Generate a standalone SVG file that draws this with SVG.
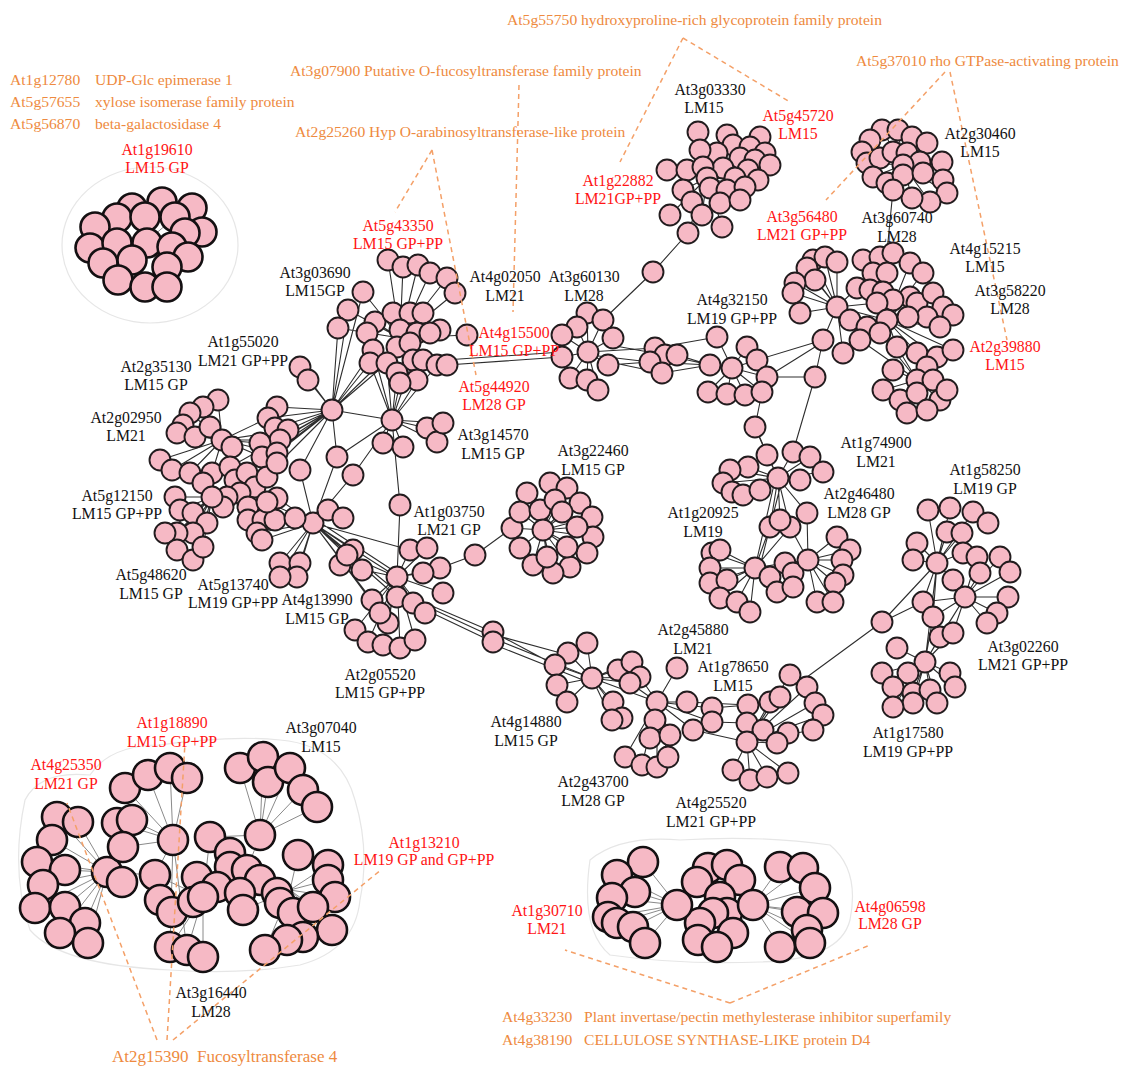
<svg xmlns="http://www.w3.org/2000/svg" width="1121" height="1067" viewBox="0 0 1121 1067">
<style>
.n circle{fill:#F6B9C5;stroke:#221C1E;stroke-width:1.9}
.m circle{fill:#F6B9C5;stroke:#141012;stroke-width:2.6}
.e{stroke:#2e2e2e;stroke-width:1.1;fill:none}
.eg{stroke:#8a8a8a;stroke-width:1;fill:none}
.hull{stroke:#e6e6e6;stroke-width:1.2;fill:none}
.d{stroke:#F4A068;stroke-width:1.5;stroke-dasharray:5 4;fill:none}
text{font-family:"Liberation Serif","Times New Roman",serif;font-size:15.8px}
.t{text-anchor:middle;fill:#111}
.r{text-anchor:middle;fill:#FF1414}
.o{fill:#EE8A40;font-size:15.6px}
.o2{fill:#EE8A40;font-size:17px}
</style>
<rect width="1121" height="1067" fill="#fff"/>

<g id="hulls">
<ellipse class="hull" cx="150" cy="245" rx="88" ry="78"/>
<path class="hull" d="M25 800 Q40 770 90 775 Q110 745 160 745 Q230 735 280 740 Q340 745 355 800 Q370 850 360 900 Q355 950 300 965 Q240 975 170 970 Q60 965 30 930 Q10 870 25 800Z"/>
<path class="hull" d="M590 860 Q620 835 680 840 Q760 835 830 845 Q860 870 850 920 Q840 960 760 962 Q680 965 610 955 Q580 930 590 860Z"/>
</g>

<g id="connectors">
<g id="e-isolated">
<path class="eg" d="M145 243L175 217M147 243L172 247M145 243L132 260M147 243L117 243M175 217L172 247M145 217L147 243M167 267L147 243"/>
<path class="eg" d="M107 872L57 817M107 872L78 822M107 872L52 840M107 872L37 862M107 872L65 870M107 872L43 885M107 872L35 908M107 872L65 907M107 872L85 923M107 872L60 933M107 872L88 943M107 872L122 882M107 872L155 875M173 840L125 788M173 840L148 775M173 840L170 768M173 840L187 778M173 840L117 823M173 840L132 820M173 840L123 847M173 840L155 875M173 840L170 947M173 840L187 950M260 835L240 768M260 835L263 757M260 835L268 782M260 835L290 768M260 835L303 790M260 835L317 807M260 835L247 870M260 835L210 837M290 890L298 855M290 890L328 865M290 890L328 880M290 890L335 897M290 890L313 907M290 890L332 930M290 890L303 937M290 890L287 940M290 890L265 950M290 890L277 893M290 890L260 880M290 890L243 910M203 897L170 947M203 897L187 950M203 897L203 957M203 897L155 875M203 897L230 853M203 897L210 837M193 902L172 912M217 887L247 870"/>
<path class="eg" d="M677 905L643 862M677 905L617 875M677 905L635 892M677 905L612 898M677 905L608 917M677 905L617 923M677 905L633 927M677 905L645 943M677 905L700 923M677 905L697 882M753 905L780 867M753 905L803 868M753 905L815 888M753 905L797 912M753 905L807 930M753 905L823 913M753 905L780 947M753 905L810 943M753 905L733 933M753 905L740 880"/>
</g>
<g id="e-main">
<path class="e" d="M400 338L388 260M400 338L403 267M400 338L418 265M400 338L430 273M400 338L447 278M400 338L455 293M400 338L363 292M400 338L348 310M400 338L338 328M400 338L467 335M400 338L440 330M400 338L375 322M400 338L393 313M400 338L410 313M400 338L423 313M392 420L373 350M392 420L370 363M392 420L387 363M392 420L397 373M392 420L413 360M392 420L400 383M392 420L417 380M392 420L437 365M392 420L383 443M392 420L403 447M392 420L427 428M392 420L437 442M392 420L443 423M392 420L400 505M392 420L353 475M392 420L337 457M392 420L332 410M332 410L373 350M332 410L370 363M332 410L387 363M332 410L397 347M332 410L363 292M332 410L348 310M332 410L338 328M447 365L562 357M445 360L562 352"/>
<path class="e" d="M332 410L300 367M332 410L308 380M332 410L277 407M332 410L268 418M332 410L275 428M332 410L288 430M332 410L280 440M332 410L262 457M332 410L277 453M332 410L300 470M332 410L337 457M332 410L230 467M332 410L247 473M332 410L255 487M222 440L218 400M222 440L203 407M222 440L190 413M222 440L183 425M222 440L177 433M222 440L160 460M222 440L172 470M222 440L190 473M222 440L212 473M222 440L260 443M222 440L262 457M222 440L268 418M222 440L277 453M222 440L280 440M222 440L288 430M212 497L175 497M212 497L180 510M212 497L193 513M212 497L207 523M212 497L193 533M212 497L177 533M212 497L165 533M212 497L177 550M212 497L193 560M212 497L203 547M212 497L240 493M212 497L248 507M212 497L255 487M212 497L267 477M212 497L277 463M212 497L262 457M212 497L277 498M313 523L248 520M313 523L263 520M313 523L275 520M313 523L257 533M313 523L262 540M313 523L280 563M313 523L300 563M313 523L297 577M313 523L280 577M313 523L300 470M313 523L353 475M313 523L277 498M313 523L267 502M313 523L337 457M313 523L397 577M313 523L410 550M313 523L397 597M313 523L380 613M313 523L372 600M313 523L362 570M313 523L353 550M313 523L388 623M316 520L400 575M318 527L395 590"/>
<path class="e" d="M397 577L410 550M397 577L427 548M397 577L440 568M397 577L423 573M397 577L443 593M397 577L397 597M397 577L413 603M397 577L425 613M397 577L372 600M397 577L388 623M397 577L400 648M397 577L383 645M397 577L368 642M397 577L355 630M397 577L415 640M397 577L400 505M397 577L340 565M397 577L347 555M440 568L475 555L512 528M425 603L493 632M428 607L493 637M430 612L493 642M493 632L555 665M495 635L568 655M497 640L592 678M495 645L588 682"/>
<path class="e" d="M543 530L527 493M543 530L550 483M543 530L567 488M543 530L580 503M543 530L592 517M543 530L593 537M543 530L587 553M543 530L570 567M543 530L553 573M543 530L533 565M543 530L520 548M543 530L512 528M543 530L520 512M543 530L562 512M543 530L577 527M543 530L567 547M543 530L547 557M543 530L540 510M543 530L555 500"/>
<path class="e" d="M588 352L587 313M588 352L603 320M588 352L613 338M588 352L577 327M588 352L562 335M588 352L562 357M588 352L608 365M588 352L570 378M588 352L587 380M588 352L598 390M603 320L653 272L688 233M588 352L655 348M590 355L650 362M600 360L662 373M610 345L665 355M608 365L650 362M655 348L710 365M665 355L710 365M662 373L710 365M677 355L710 365M650 362L710 365M655 348L717 337"/>
<path class="e" d="M732 368L710 365M732 368L717 337M732 368L747 347M732 368L757 360M732 368L767 377M732 368L708 392M732 368L727 394M732 368L745 395M732 368L762 392M757 360L823 340M767 377L823 342M767 377L815 377M815 377L823 340M815 377L793 452M762 392L755 427L767 455"/>
<path class="e" d="M837 307L813 260M837 307L825 257M837 307L837 262M837 307L807 268M837 307L815 280M837 307L795 283M837 307L793 293M837 307L800 313M837 307L857 288M837 307L850 320M837 307L877 303M837 307L823 340M837 307L843 353M837 307L867 327M887 320L863 260M887 320L880 257M887 320L893 253M887 320L910 263M887 320L923 273M887 320L873 273M887 320L887 273M887 320L857 288M887 320L870 290M887 320L883 292M887 320L910 297M887 320L917 303M887 320L933 293M887 320L943 307M887 320L953 315M887 320L927 317M887 320L940 327M887 320L877 303M887 320L850 320M887 320L860 340M887 320L897 347M887 320L917 353M887 320L937 357M887 320L953 350M887 320L837 307M917 380L927 367M917 380L933 380M917 380L893 370M917 380L883 390M917 380L900 400M917 380L917 393M917 380L940 400M917 380L947 390M917 380L907 413M917 380L927 410M917 380L897 347M917 380L937 357M917 380L953 350M917 380L880 333M917 380L860 340M893 190L887 252"/>
<path class="e" d="M903 165L882 130M903 165L898 130M903 165L912 137M903 165L927 143M903 165L870 140M903 165L862 152M903 165L867 163M903 165L880 158M903 165L920 162M903 165L942 162M903 165L873 177M903 165L887 183M903 165L923 173M903 165L943 180M903 165L947 193M903 165L930 202M903 165L912 198M903 165L893 190"/>
<path class="e" d="M707 178L667 170M707 178L687 170M707 178L703 167M707 178L683 190M707 178L670 215M707 178L688 233M707 178L702 215M707 178L722 227M707 178L720 203M707 178L740 200M707 178L727 190M707 178L717 153M707 178L723 168M707 178L740 158M707 178L748 170M707 178L758 180M707 178L733 145M707 178L750 147M707 178L765 153M707 178L745 187M698 132L717 153"/>
<path class="e" d="M778 478L755 427M778 478L767 455M778 478L793 452M778 478L810 457M778 478L823 472M778 478L748 467M778 478L730 470M778 478L723 483M778 478L732 492M778 478L743 495M778 478L760 490M778 478L800 480M778 478L807 513M778 478L770 527M778 478L780 520M778 478L790 527M775 480L755 568M782 480L760 566M807 513L808 560M755 568L712 553M755 568L720 550M755 568L710 568M755 568L710 583M755 568L727 580M755 568L720 598M755 568L737 602M755 568L750 612M755 568L770 577M755 568L770 527M755 568L790 527M755 568L785 563M808 560L837 537M808 560L850 550M808 560L842 560M808 560L843 575M808 560L835 583M808 560L817 602M808 560L833 602M808 560L777 592M808 560L793 587M808 560L793 573M808 560L785 563M808 560L790 527"/>
<path class="e" d="M937 563L928 510M937 563L950 508M937 563L973 512M937 563L947 532M937 563L962 533M937 563L917 543M937 563L913 560M937 563L963 553M937 563L953 580M937 563L923 602M937 563L933 617M965 597L977 557M965 597L1000 557M965 597L1010 572M965 597L980 573M965 597L1008 597M965 597L997 613M965 597L987 623M965 597L953 633M965 597L940 637M965 597L953 580M965 597L923 602M965 597L925 662M965 597L933 617M925 662L897 648M925 662L882 673M925 662L893 687M925 662L908 673M925 662L913 693M925 662L930 690M925 662L950 673M925 662L955 687M925 662L937 703M925 662L913 703M925 662L893 707M925 662L940 637M925 662L953 633M925 662L937 563M925 662L933 617M882 622L923 602M882 622L937 563M882 622L807 677"/>
<path class="e" d="M592 678L587 643M592 678L568 653M592 678L555 665M592 678L557 685M592 678L567 702M592 678L618 670M592 678L632 662M592 678L640 677M592 678L630 683M592 678L613 702M592 678L622 718M592 678L612 720M592 678L657 702M587 643L568 653M657 702L677 668M657 702L687 702M657 702L712 708M657 702L712 722M657 702L693 730M657 702L655 720M657 702L650 738M657 702L670 735M657 702L625 757M657 702L642 765M657 702L657 767M657 702L668 757M657 702L640 677M657 702L630 683M687 702L748 705M712 708L748 705M712 722L747 723M693 730L747 742M747 742L748 705M747 742L770 702M747 742L747 723M747 742L763 730M747 742L777 743M747 742L733 770M747 742L750 780M747 742L767 777M747 742L780 697M747 742L790 675M747 742L807 687M747 742L815 703M747 742L823 715M747 742L813 730M747 742L788 733M747 742L788 773"/>
</g>
</g>

<g id="n-At1g19610" class="m">
<circle cx="132" cy="208" r="14.5"/><circle cx="162" cy="202" r="14.5"/><circle cx="192" cy="208" r="14.5"/><circle cx="117" cy="218" r="14.5"/><circle cx="95" cy="227" r="14.5"/><circle cx="145" cy="217" r="14.5"/><circle cx="175" cy="217" r="14.5"/><circle cx="202" cy="232" r="14.5"/><circle cx="185" cy="233" r="14.5"/><circle cx="90" cy="248" r="14.5"/><circle cx="117" cy="243" r="14.5"/><circle cx="147" cy="243" r="14.5"/><circle cx="172" cy="247" r="14.5"/><circle cx="188" cy="257" r="14.5"/><circle cx="103" cy="263" r="14.5"/><circle cx="132" cy="260" r="14.5"/><circle cx="167" cy="267" r="14.5"/><circle cx="118" cy="280" r="14.5"/><circle cx="145" cy="287" r="14.5"/><circle cx="167" cy="287" r="14.5"/>
</g>

<g id="n-At5g43350" class="n">
<circle cx="388" cy="260" r="10.5"/><circle cx="403" cy="267" r="10.5"/><circle cx="418" cy="265" r="10.5"/><circle cx="430" cy="273" r="10.5"/><circle cx="447" cy="278" r="10.5"/><circle cx="455" cy="293" r="10.5"/><circle cx="363" cy="292" r="10.5"/><circle cx="348" cy="310" r="10.5"/><circle cx="338" cy="328" r="10.5"/><circle cx="375" cy="322" r="10.5"/><circle cx="367" cy="333" r="10.5"/><circle cx="393" cy="313" r="10.5"/><circle cx="410" cy="313" r="10.5"/><circle cx="423" cy="313" r="10.5"/><circle cx="440" cy="330" r="10.5"/><circle cx="467" cy="335" r="10.5"/><circle cx="400" cy="330" r="10.5"/><circle cx="417" cy="333" r="10.5"/><circle cx="430" cy="333" r="10.5"/><circle cx="397" cy="347" r="10.5"/><circle cx="410" cy="343" r="10.5"/><circle cx="373" cy="350" r="10.5"/><circle cx="370" cy="363" r="10.5"/><circle cx="387" cy="363" r="10.5"/><circle cx="413" cy="360" r="10.5"/><circle cx="423" cy="360" r="10.5"/><circle cx="437" cy="365" r="10.5"/><circle cx="447" cy="365" r="10.5"/><circle cx="397" cy="373" r="10.5"/><circle cx="417" cy="380" r="10.5"/><circle cx="400" cy="383" r="10.5"/><circle cx="392" cy="420" r="10.5"/><circle cx="383" cy="443" r="10.5"/><circle cx="403" cy="447" r="10.5"/><circle cx="427" cy="428" r="10.5"/><circle cx="437" cy="442" r="10.5"/><circle cx="443" cy="423" r="10.5"/>
</g>

<g id="n-At2g35130" class="n">
<circle cx="300" cy="367" r="10.5"/><circle cx="308" cy="380" r="10.5"/><circle cx="332" cy="410" r="10.5"/><circle cx="277" cy="407" r="10.5"/><circle cx="268" cy="418" r="10.5"/><circle cx="275" cy="428" r="10.5"/><circle cx="288" cy="430" r="10.5"/><circle cx="280" cy="440" r="10.5"/><circle cx="260" cy="443" r="10.5"/><circle cx="262" cy="457" r="10.5"/><circle cx="277" cy="453" r="10.5"/><circle cx="218" cy="400" r="10.5"/><circle cx="203" cy="407" r="10.5"/><circle cx="190" cy="413" r="10.5"/><circle cx="183" cy="425" r="10.5"/><circle cx="177" cy="433" r="10.5"/><circle cx="195" cy="437" r="10.5"/><circle cx="210" cy="427" r="10.5"/><circle cx="222" cy="440" r="10.5"/><circle cx="232" cy="447" r="10.5"/><circle cx="160" cy="460" r="10.5"/><circle cx="172" cy="470" r="10.5"/><circle cx="190" cy="473" r="10.5"/><circle cx="212" cy="473" r="10.5"/><circle cx="203" cy="483" r="10.5"/><circle cx="230" cy="467" r="10.5"/><circle cx="235" cy="480" r="10.5"/><circle cx="247" cy="473" r="10.5"/><circle cx="255" cy="487" r="10.5"/><circle cx="267" cy="477" r="10.5"/><circle cx="277" cy="463" r="10.5"/><circle cx="240" cy="493" r="10.5"/><circle cx="248" cy="507" r="10.5"/><circle cx="227" cy="497" r="10.5"/><circle cx="223" cy="507" r="10.5"/><circle cx="212" cy="497" r="10.5"/><circle cx="175" cy="497" r="10.5"/><circle cx="180" cy="510" r="10.5"/><circle cx="193" cy="513" r="10.5"/><circle cx="207" cy="523" r="10.5"/><circle cx="193" cy="533" r="10.5"/><circle cx="177" cy="533" r="10.5"/><circle cx="165" cy="533" r="10.5"/><circle cx="177" cy="550" r="10.5"/><circle cx="193" cy="560" r="10.5"/><circle cx="203" cy="547" r="10.5"/><circle cx="248" cy="520" r="10.5"/><circle cx="263" cy="520" r="10.5"/><circle cx="257" cy="533" r="10.5"/><circle cx="275" cy="520" r="10.5"/><circle cx="262" cy="540" r="10.5"/><circle cx="277" cy="498" r="10.5"/><circle cx="267" cy="502" r="10.5"/><circle cx="280" cy="563" r="10.5"/><circle cx="300" cy="563" r="10.5"/><circle cx="297" cy="577" r="10.5"/><circle cx="280" cy="577" r="10.5"/><circle cx="300" cy="470" r="10.5"/><circle cx="313" cy="523" r="10.5"/><circle cx="295" cy="518" r="10.5"/><circle cx="328" cy="510" r="10.5"/><circle cx="343" cy="518" r="10.5"/><circle cx="337" cy="457" r="10.5"/><circle cx="353" cy="475" r="10.5"/>
</g>

<g id="n-At2g05520" class="n">
<circle cx="400" cy="505" r="10.5"/><circle cx="410" cy="550" r="10.5"/><circle cx="427" cy="548" r="10.5"/><circle cx="440" cy="568" r="10.5"/><circle cx="423" cy="573" r="10.5"/><circle cx="443" cy="593" r="10.5"/><circle cx="397" cy="577" r="10.5"/><circle cx="397" cy="597" r="10.5"/><circle cx="413" cy="603" r="10.5"/><circle cx="425" cy="613" r="10.5"/><circle cx="372" cy="600" r="10.5"/><circle cx="388" cy="623" r="10.5"/><circle cx="380" cy="613" r="10.5"/><circle cx="355" cy="630" r="10.5"/><circle cx="368" cy="642" r="10.5"/><circle cx="383" cy="645" r="10.5"/><circle cx="400" cy="648" r="10.5"/><circle cx="415" cy="640" r="10.5"/><circle cx="340" cy="565" r="10.5"/><circle cx="353" cy="550" r="10.5"/><circle cx="362" cy="570" r="10.5"/><circle cx="347" cy="555" r="10.5"/><circle cx="475" cy="555" r="10.5"/><circle cx="493" cy="632" r="10.5"/><circle cx="493" cy="642" r="10.5"/>
</g>

<g id="n-At3g22460" class="n">
<circle cx="527" cy="493" r="10.5"/><circle cx="550" cy="483" r="10.5"/><circle cx="567" cy="488" r="10.5"/><circle cx="580" cy="503" r="10.5"/><circle cx="592" cy="517" r="10.5"/><circle cx="593" cy="537" r="10.5"/><circle cx="587" cy="553" r="10.5"/><circle cx="570" cy="567" r="10.5"/><circle cx="553" cy="573" r="10.5"/><circle cx="533" cy="565" r="10.5"/><circle cx="520" cy="548" r="10.5"/><circle cx="512" cy="528" r="10.5"/><circle cx="520" cy="512" r="10.5"/><circle cx="540" cy="510" r="10.5"/><circle cx="555" cy="500" r="10.5"/><circle cx="562" cy="512" r="10.5"/><circle cx="577" cy="527" r="10.5"/><circle cx="567" cy="547" r="10.5"/><circle cx="547" cy="557" r="10.5"/><circle cx="543" cy="530" r="10.5"/>
</g>

<g id="n-At3g60130" class="n">
<circle cx="653" cy="272" r="10.5"/><circle cx="587" cy="313" r="10.5"/><circle cx="603" cy="320" r="10.5"/><circle cx="613" cy="338" r="10.5"/><circle cx="577" cy="327" r="10.5"/><circle cx="562" cy="335" r="10.5"/><circle cx="562" cy="357" r="10.5"/><circle cx="588" cy="352" r="10.5"/><circle cx="608" cy="365" r="10.5"/><circle cx="570" cy="378" r="10.5"/><circle cx="587" cy="380" r="10.5"/><circle cx="598" cy="390" r="10.5"/><circle cx="655" cy="348" r="10.5"/><circle cx="665" cy="355" r="10.5"/><circle cx="650" cy="362" r="10.5"/><circle cx="662" cy="373" r="10.5"/><circle cx="677" cy="355" r="10.5"/>
</g>

<g id="n-At4g32150" class="n">
<circle cx="717" cy="337" r="10.5"/><circle cx="747" cy="347" r="10.5"/><circle cx="710" cy="365" r="10.5"/><circle cx="732" cy="368" r="10.5"/><circle cx="757" cy="360" r="10.5"/><circle cx="767" cy="377" r="10.5"/><circle cx="708" cy="392" r="10.5"/><circle cx="727" cy="394" r="10.5"/><circle cx="745" cy="395" r="10.5"/><circle cx="762" cy="392" r="10.5"/><circle cx="815" cy="377" r="10.5"/>
</g>

<g id="n-At3g56480" class="n">
<circle cx="813" cy="260" r="10.5"/><circle cx="825" cy="257" r="10.5"/><circle cx="837" cy="262" r="10.5"/><circle cx="807" cy="268" r="10.5"/><circle cx="815" cy="280" r="10.5"/><circle cx="795" cy="283" r="10.5"/><circle cx="793" cy="293" r="10.5"/><circle cx="800" cy="313" r="10.5"/><circle cx="837" cy="307" r="10.5"/><circle cx="863" cy="260" r="10.5"/><circle cx="880" cy="257" r="10.5"/><circle cx="893" cy="253" r="10.5"/><circle cx="910" cy="263" r="10.5"/><circle cx="923" cy="273" r="10.5"/><circle cx="873" cy="273" r="10.5"/><circle cx="887" cy="273" r="10.5"/><circle cx="857" cy="288" r="10.5"/><circle cx="870" cy="290" r="10.5"/><circle cx="883" cy="292" r="10.5"/><circle cx="910" cy="297" r="10.5"/><circle cx="893" cy="300" r="10.5"/><circle cx="917" cy="303" r="10.5"/><circle cx="933" cy="293" r="10.5"/><circle cx="943" cy="307" r="10.5"/><circle cx="953" cy="315" r="10.5"/><circle cx="927" cy="317" r="10.5"/><circle cx="940" cy="327" r="10.5"/><circle cx="908" cy="317" r="10.5"/><circle cx="877" cy="303" r="10.5"/><circle cx="887" cy="320" r="10.5"/><circle cx="850" cy="320" r="10.5"/><circle cx="867" cy="327" r="10.5"/><circle cx="880" cy="333" r="10.5"/><circle cx="860" cy="340" r="10.5"/><circle cx="823" cy="340" r="10.5"/><circle cx="843" cy="353" r="10.5"/><circle cx="897" cy="347" r="10.5"/><circle cx="917" cy="353" r="10.5"/><circle cx="937" cy="357" r="10.5"/><circle cx="953" cy="350" r="10.5"/><circle cx="927" cy="367" r="10.5"/><circle cx="893" cy="370" r="10.5"/><circle cx="917" cy="380" r="10.5"/><circle cx="933" cy="380" r="10.5"/><circle cx="883" cy="390" r="10.5"/><circle cx="900" cy="400" r="10.5"/><circle cx="917" cy="393" r="10.5"/><circle cx="940" cy="400" r="10.5"/><circle cx="947" cy="390" r="10.5"/><circle cx="907" cy="413" r="10.5"/><circle cx="927" cy="410" r="10.5"/>
</g>

<g id="n-At2g30460" class="n">
<circle cx="882" cy="130" r="10.5"/><circle cx="898" cy="130" r="10.5"/><circle cx="912" cy="137" r="10.5"/><circle cx="927" cy="143" r="10.5"/><circle cx="870" cy="140" r="10.5"/><circle cx="862" cy="152" r="10.5"/><circle cx="867" cy="163" r="10.5"/><circle cx="880" cy="158" r="10.5"/><circle cx="893" cy="152" r="10.5"/><circle cx="907" cy="153" r="10.5"/><circle cx="920" cy="162" r="10.5"/><circle cx="942" cy="162" r="10.5"/><circle cx="903" cy="165" r="10.5"/><circle cx="873" cy="177" r="10.5"/><circle cx="887" cy="183" r="10.5"/><circle cx="903" cy="175" r="10.5"/><circle cx="923" cy="173" r="10.5"/><circle cx="943" cy="180" r="10.5"/><circle cx="947" cy="193" r="10.5"/><circle cx="930" cy="202" r="10.5"/><circle cx="912" cy="198" r="10.5"/><circle cx="893" cy="190" r="10.5"/>
</g>

<g id="n-At3g03330" class="n">
<circle cx="698" cy="132" r="10.5"/><circle cx="727" cy="135" r="10.5"/><circle cx="760" cy="137" r="10.5"/><circle cx="733" cy="145" r="10.5"/><circle cx="750" cy="147" r="10.5"/><circle cx="765" cy="153" r="10.5"/><circle cx="717" cy="153" r="10.5"/><circle cx="700" cy="150" r="10.5"/><circle cx="740" cy="158" r="10.5"/><circle cx="755" cy="160" r="10.5"/><circle cx="770" cy="165" r="10.5"/><circle cx="723" cy="168" r="10.5"/><circle cx="748" cy="170" r="10.5"/><circle cx="758" cy="180" r="10.5"/><circle cx="667" cy="170" r="10.5"/><circle cx="687" cy="170" r="10.5"/><circle cx="703" cy="167" r="10.5"/><circle cx="707" cy="178" r="10.5"/><circle cx="735" cy="178" r="10.5"/><circle cx="710" cy="188" r="10.5"/><circle cx="727" cy="190" r="10.5"/><circle cx="745" cy="187" r="10.5"/><circle cx="683" cy="190" r="10.5"/><circle cx="692" cy="202" r="10.5"/><circle cx="720" cy="203" r="10.5"/><circle cx="740" cy="200" r="10.5"/><circle cx="702" cy="215" r="10.5"/><circle cx="670" cy="215" r="10.5"/><circle cx="722" cy="227" r="10.5"/><circle cx="688" cy="233" r="10.5"/>
</g>

<g id="n-At1g74900" class="n">
<circle cx="755" cy="427" r="10.5"/><circle cx="767" cy="455" r="10.5"/><circle cx="793" cy="452" r="10.5"/><circle cx="810" cy="457" r="10.5"/><circle cx="823" cy="472" r="10.5"/><circle cx="748" cy="467" r="10.5"/><circle cx="730" cy="470" r="10.5"/><circle cx="723" cy="483" r="10.5"/><circle cx="732" cy="492" r="10.5"/><circle cx="743" cy="495" r="10.5"/><circle cx="760" cy="490" r="10.5"/><circle cx="800" cy="480" r="10.5"/><circle cx="778" cy="478" r="10.5"/><circle cx="807" cy="513" r="10.5"/><circle cx="770" cy="527" r="10.5"/><circle cx="790" cy="527" r="10.5"/><circle cx="780" cy="520" r="10.5"/><circle cx="712" cy="553" r="10.5"/><circle cx="720" cy="550" r="10.5"/><circle cx="710" cy="568" r="10.5"/><circle cx="710" cy="583" r="10.5"/><circle cx="727" cy="580" r="10.5"/><circle cx="720" cy="598" r="10.5"/><circle cx="737" cy="602" r="10.5"/><circle cx="750" cy="612" r="10.5"/><circle cx="755" cy="568" r="10.5"/><circle cx="770" cy="577" r="10.5"/><circle cx="785" cy="563" r="10.5"/><circle cx="793" cy="573" r="10.5"/><circle cx="777" cy="592" r="10.5"/><circle cx="793" cy="587" r="10.5"/><circle cx="808" cy="560" r="10.5"/><circle cx="837" cy="537" r="10.5"/><circle cx="850" cy="550" r="10.5"/><circle cx="842" cy="560" r="10.5"/><circle cx="843" cy="575" r="10.5"/><circle cx="835" cy="583" r="10.5"/><circle cx="817" cy="602" r="10.5"/><circle cx="833" cy="602" r="10.5"/>
</g>

<g id="n-At1g58250" class="n">
<circle cx="928" cy="510" r="10.5"/><circle cx="950" cy="508" r="10.5"/><circle cx="973" cy="512" r="10.5"/><circle cx="988" cy="523" r="10.5"/><circle cx="947" cy="532" r="10.5"/><circle cx="962" cy="533" r="10.5"/><circle cx="917" cy="543" r="10.5"/><circle cx="913" cy="560" r="10.5"/><circle cx="937" cy="563" r="10.5"/><circle cx="963" cy="553" r="10.5"/><circle cx="977" cy="557" r="10.5"/><circle cx="1000" cy="557" r="10.5"/><circle cx="1010" cy="572" r="10.5"/><circle cx="980" cy="573" r="10.5"/><circle cx="953" cy="580" r="10.5"/><circle cx="965" cy="597" r="10.5"/><circle cx="1008" cy="597" r="10.5"/><circle cx="997" cy="613" r="10.5"/><circle cx="987" cy="623" r="10.5"/><circle cx="923" cy="602" r="10.5"/><circle cx="933" cy="617" r="10.5"/><circle cx="940" cy="637" r="10.5"/><circle cx="953" cy="633" r="10.5"/><circle cx="882" cy="622" r="10.5"/><circle cx="897" cy="648" r="10.5"/><circle cx="925" cy="662" r="10.5"/><circle cx="882" cy="673" r="10.5"/><circle cx="908" cy="673" r="10.5"/><circle cx="950" cy="673" r="10.5"/><circle cx="893" cy="687" r="10.5"/><circle cx="913" cy="693" r="10.5"/><circle cx="930" cy="690" r="10.5"/><circle cx="955" cy="687" r="10.5"/><circle cx="937" cy="703" r="10.5"/><circle cx="913" cy="703" r="10.5"/><circle cx="893" cy="707" r="10.5"/>
</g>

<g id="n-At4g14880" class="n">
<circle cx="587" cy="643" r="10.5"/><circle cx="568" cy="653" r="10.5"/><circle cx="555" cy="665" r="10.5"/><circle cx="557" cy="685" r="10.5"/><circle cx="567" cy="702" r="10.5"/><circle cx="592" cy="678" r="10.5"/><circle cx="618" cy="670" r="10.5"/><circle cx="632" cy="662" r="10.5"/><circle cx="640" cy="677" r="10.5"/><circle cx="630" cy="683" r="10.5"/><circle cx="613" cy="702" r="10.5"/><circle cx="622" cy="718" r="10.5"/><circle cx="612" cy="720" r="10.5"/><circle cx="677" cy="668" r="10.5"/><circle cx="657" cy="702" r="10.5"/><circle cx="687" cy="702" r="10.5"/><circle cx="712" cy="708" r="10.5"/><circle cx="712" cy="722" r="10.5"/><circle cx="693" cy="730" r="10.5"/><circle cx="655" cy="720" r="10.5"/><circle cx="650" cy="738" r="10.5"/><circle cx="670" cy="735" r="10.5"/><circle cx="625" cy="757" r="10.5"/><circle cx="642" cy="765" r="10.5"/><circle cx="657" cy="767" r="10.5"/><circle cx="668" cy="757" r="10.5"/><circle cx="748" cy="705" r="10.5"/><circle cx="770" cy="702" r="10.5"/><circle cx="780" cy="697" r="10.5"/><circle cx="790" cy="675" r="10.5"/><circle cx="807" cy="687" r="10.5"/><circle cx="815" cy="703" r="10.5"/><circle cx="823" cy="715" r="10.5"/><circle cx="813" cy="730" r="10.5"/><circle cx="747" cy="723" r="10.5"/><circle cx="763" cy="730" r="10.5"/><circle cx="788" cy="733" r="10.5"/><circle cx="747" cy="742" r="10.5"/><circle cx="777" cy="743" r="10.5"/><circle cx="733" cy="770" r="10.5"/><circle cx="750" cy="780" r="10.5"/><circle cx="767" cy="777" r="10.5"/><circle cx="788" cy="773" r="10.5"/>
</g>

<g id="n-At1g18890" class="m">
<circle cx="57" cy="817" r="15"/><circle cx="78" cy="822" r="15"/><circle cx="52" cy="840" r="15"/><circle cx="37" cy="862" r="15"/><circle cx="65" cy="870" r="15"/><circle cx="43" cy="885" r="15"/><circle cx="35" cy="908" r="15"/><circle cx="65" cy="907" r="15"/><circle cx="85" cy="923" r="15"/><circle cx="60" cy="933" r="15"/><circle cx="88" cy="943" r="15"/><circle cx="107" cy="872" r="15"/><circle cx="122" cy="882" r="15"/>
<circle cx="125" cy="788" r="15"/><circle cx="148" cy="775" r="15"/><circle cx="170" cy="768" r="15"/><circle cx="187" cy="778" r="15"/><circle cx="117" cy="823" r="15"/><circle cx="132" cy="820" r="15"/><circle cx="123" cy="847" r="15"/><circle cx="173" cy="840" r="15"/>
<circle cx="240" cy="768" r="15"/><circle cx="263" cy="757" r="15"/><circle cx="268" cy="782" r="15"/><circle cx="290" cy="768" r="15"/><circle cx="303" cy="790" r="15"/><circle cx="317" cy="807" r="15"/><circle cx="260" cy="835" r="15"/>
<circle cx="210" cy="837" r="15"/><circle cx="155" cy="875" r="15"/><circle cx="230" cy="853" r="15"/><circle cx="230" cy="867" r="15"/><circle cx="197" cy="877" r="15"/><circle cx="217" cy="887" r="15"/><circle cx="247" cy="870" r="15"/><circle cx="260" cy="880" r="15"/><circle cx="160" cy="900" r="15"/><circle cx="172" cy="912" r="15"/><circle cx="193" cy="902" r="15"/><circle cx="203" cy="897" r="15"/><circle cx="240" cy="893" r="15"/><circle cx="277" cy="893" r="15"/><circle cx="243" cy="910" r="15"/><circle cx="170" cy="947" r="15"/><circle cx="187" cy="950" r="15"/><circle cx="203" cy="957" r="15"/>
<circle cx="298" cy="855" r="15"/><circle cx="328" cy="865" r="15"/><circle cx="328" cy="880" r="15"/><circle cx="335" cy="897" r="15"/><circle cx="280" cy="903" r="15"/><circle cx="293" cy="913" r="15"/><circle cx="313" cy="907" r="15"/><circle cx="332" cy="930" r="15"/><circle cx="303" cy="937" r="15"/><circle cx="287" cy="940" r="15"/><circle cx="265" cy="950" r="15"/>
</g>

<g id="n-At1g30710" class="m">
<circle cx="643" cy="862" r="15"/><circle cx="617" cy="875" r="15"/><circle cx="635" cy="892" r="15"/><circle cx="612" cy="898" r="15"/><circle cx="608" cy="917" r="15"/><circle cx="617" cy="923" r="15"/><circle cx="633" cy="927" r="15"/><circle cx="645" cy="943" r="15"/>
<circle cx="708" cy="868" r="15"/><circle cx="727" cy="865" r="15"/><circle cx="740" cy="880" r="15"/><circle cx="697" cy="882" r="15"/><circle cx="720" cy="897" r="15"/><circle cx="727" cy="913" r="15"/><circle cx="713" cy="913" r="15"/><circle cx="700" cy="923" r="15"/><circle cx="698" cy="940" r="15"/><circle cx="733" cy="933" r="15"/><circle cx="717" cy="947" r="15"/><circle cx="677" cy="905" r="15"/><circle cx="753" cy="905" r="15"/>
<circle cx="780" cy="867" r="15"/><circle cx="803" cy="868" r="15"/><circle cx="815" cy="888" r="15"/><circle cx="797" cy="912" r="15"/><circle cx="823" cy="913" r="15"/><circle cx="807" cy="930" r="15"/><circle cx="780" cy="947" r="15"/><circle cx="810" cy="943" r="15"/>
</g>

<g id="annotation-lines">
<path class="d" d="M683 38L620 162M683 38L790 102"/>
<path class="d" d="M945 72L826 200M950 72L1007 340"/>
<path class="d" d="M519 85L513 312"/>
<path class="d" d="M432 150L395 212M432 150L476 375"/>
<path class="d" d="M157 1040L67 803M167 1040L185 743M173 1040L382 869"/>
<path class="d" d="M730 1003L565 950M730 1003L870 945"/>
</g>

<g id="annotations">
<text class="o" x="507" y="25">At5g55750</text><text class="o" x="581" y="25">hydroxyproline-rich glycoprotein family protein</text>
<text class="o" x="856" y="66">At5g37010 rho GTPase-activating protein</text>
<text class="o" x="290" y="76">At3g07900 Putative O-fucosyltransferase family protein</text>
<text class="o" x="295" y="137">At2g25260 Hyp O-arabinosyltransferase-like protein</text>
<text class="o" x="10" y="85">At1g12780</text><text class="o" x="95" y="85">UDP-Glc epimerase 1</text>
<text class="o" x="10" y="107">At5g57655</text><text class="o" x="95" y="107">xylose isomerase family protein</text>
<text class="o" x="10" y="129">At5g56870</text><text class="o" x="95" y="129">beta-galactosidase 4</text>
<text class="o" x="502" y="1022">At4g33230</text><text class="o" x="584" y="1022">Plant invertase/pectin methylesterase inhibitor superfamily</text>
<text class="o" x="502" y="1045">At4g38190</text><text class="o" x="584" y="1045">CELLULOSE SYNTHASE-LIKE protein D4</text>
<text class="o2" x="112" y="1062">At2g15390</text><text class="o2" x="197" y="1062">Fucosyltransferase 4</text>
</g>

<g id="labels-red">
<text class="r" x="157" y="155">At1g19610</text><text class="r" x="157" y="173">LM15 GP</text>
<text class="r" x="798" y="121">At5g45720</text><text class="r" x="798" y="139">LM15</text>
<text class="r" x="618" y="186">At1g22882</text><text class="r" x="618" y="204">LM21GP+PP</text>
<text class="r" x="802" y="222">At3g56480</text><text class="r" x="802" y="240">LM21 GP+PP</text>
<text class="r" x="398" y="231">At5g43350</text><text class="r" x="398" y="249">LM15 GP+PP</text>
<text class="r" x="514" y="338">At4g15500</text><text class="r" x="514" y="356">LM15 GP+PP</text>
<text class="r" x="494" y="392">At5g44920</text><text class="r" x="494" y="410">LM28 GP</text>
<text class="r" x="1005" y="352">At2g39880</text><text class="r" x="1005" y="370">LM15</text>
<text class="r" x="172" y="728">At1g18890</text><text class="r" x="172" y="747">LM15 GP+PP</text>
<text class="r" x="66" y="770">At4g25350</text><text class="r" x="66" y="789">LM21 GP</text>
<text class="r" x="424" y="848">At1g13210</text><text class="r" x="424" y="865">LM19 GP and GP+PP</text>
<text class="r" x="547" y="916">At1g30710</text><text class="r" x="547" y="934">LM21</text>
<text class="r" x="890" y="912">At4g06598</text><text class="r" x="890" y="929">LM28 GP</text>
</g>

<g id="labels">
<text class="t" x="710" y="95">At3g03330</text><text class="t" x="704" y="113">LM15</text>
<text class="t" x="980" y="139">At2g30460</text><text class="t" x="980" y="157">LM15</text>
<text class="t" x="897" y="223">At3g60740</text><text class="t" x="897" y="242">LM28</text>
<text class="t" x="985" y="254">At4g15215</text><text class="t" x="985" y="272">LM15</text>
<text class="t" x="1010" y="296">At3g58220</text><text class="t" x="1010" y="314">LM28</text>
<text class="t" x="315" y="278">At3g03690</text><text class="t" x="315" y="296">LM15GP</text>
<text class="t" x="505" y="282">At4g02050</text><text class="t" x="505" y="301">LM21</text>
<text class="t" x="584" y="282">At3g60130</text><text class="t" x="584" y="301">LM28</text>
<text class="t" x="732" y="305">At4g32150</text><text class="t" x="732" y="324">LM19 GP+PP</text>
<text class="t" x="243" y="347">At1g55020</text><text class="t" x="243" y="366">LM21 GP+PP</text>
<text class="t" x="156" y="372">At2g35130</text><text class="t" x="156" y="390">LM15 GP</text>
<text class="t" x="126" y="423">At2g02950</text><text class="t" x="126" y="441">LM21</text>
<text class="t" x="493" y="440">At3g14570</text><text class="t" x="493" y="459">LM15 GP</text>
<text class="t" x="593" y="456">At3g22460</text><text class="t" x="593" y="475">LM15 GP</text>
<text class="t" x="876" y="448">At1g74900</text><text class="t" x="876" y="467">LM21</text>
<text class="t" x="985" y="475">At1g58250</text><text class="t" x="985" y="494">LM19 GP</text>
<text class="t" x="859" y="499">At2g46480</text><text class="t" x="859" y="518">LM28 GP</text>
<text class="t" x="449" y="517">At1g03750</text><text class="t" x="449" y="535">LM21 GP</text>
<text class="t" x="117" y="501">At5g12150</text><text class="t" x="117" y="519">LM15 GP+PP</text>
<text class="t" x="703" y="518">At1g20925</text><text class="t" x="703" y="537">LM19</text>
<text class="t" x="151" y="580">At5g48620</text><text class="t" x="151" y="599">LM15 GP</text>
<text class="t" x="233" y="590">At5g13740</text><text class="t" x="233" y="608">LM19 GP+PP</text>
<text class="t" x="317" y="605">At4g13990</text><text class="t" x="317" y="624">LM15 GP</text>
<text class="t" x="693" y="635">At2g45880</text><text class="t" x="693" y="654">LM21</text>
<text class="t" x="1023" y="652">At3g02260</text><text class="t" x="1023" y="670">LM21 GP+PP</text>
<text class="t" x="733" y="672">At1g78650</text><text class="t" x="733" y="691">LM15</text>
<text class="t" x="380" y="680">At2g05520</text><text class="t" x="380" y="698">LM15 GP+PP</text>
<text class="t" x="526" y="727">At4g14880</text><text class="t" x="526" y="746">LM15 GP</text>
<text class="t" x="908" y="738">At1g17580</text><text class="t" x="908" y="757">LM19 GP+PP</text>
<text class="t" x="321" y="733">At3g07040</text><text class="t" x="321" y="752">LM15</text>
<text class="t" x="593" y="787">At2g43700</text><text class="t" x="593" y="806">LM28 GP</text>
<text class="t" x="711" y="808">At4g25520</text><text class="t" x="711" y="827">LM21 GP+PP</text>
<text class="t" x="211" y="998">At3g16440</text><text class="t" x="211" y="1017">LM28</text>
</g>
</svg>
